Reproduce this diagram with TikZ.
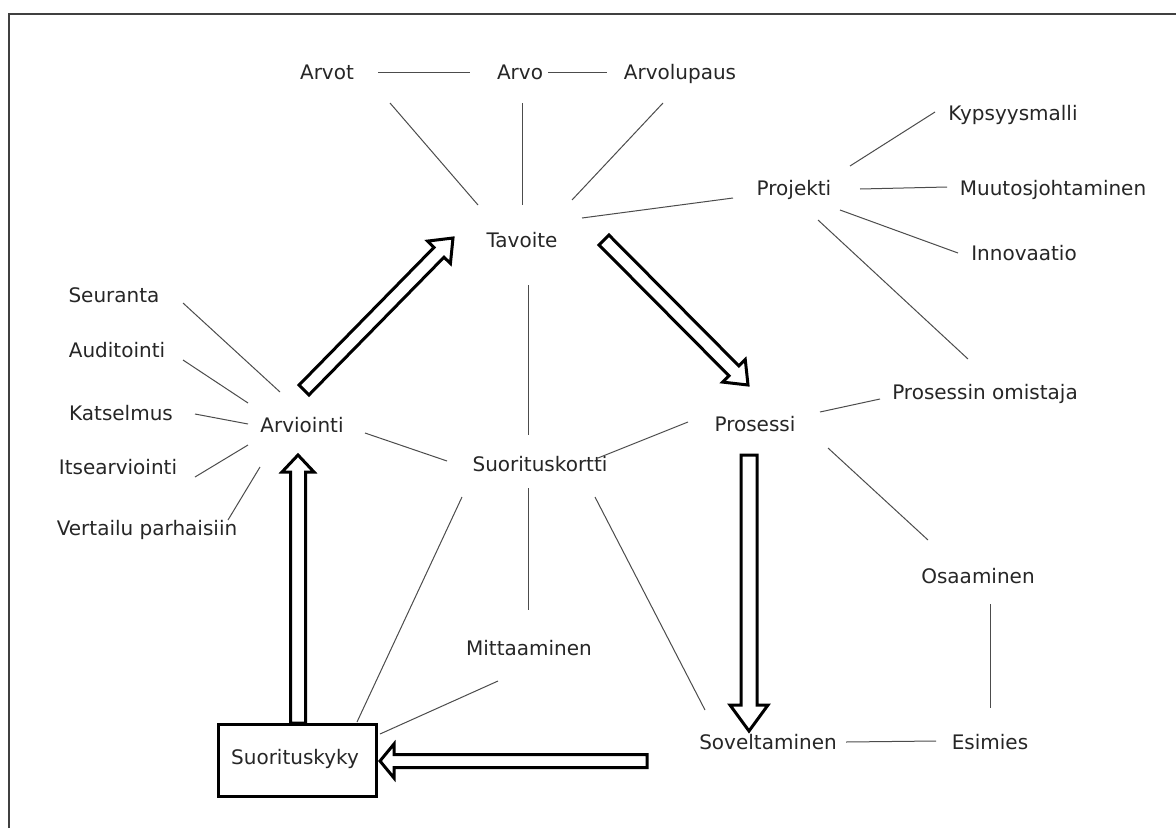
\documentclass[tikz,border=0pt]{standalone}
\usepackage{fontspec}
\setmainfont{DejaVu Sans}
\usetikzlibrary{calc}
\newcommand{\hollowarrow}[5]{%
  \coordinate (hq) at ($(#2)!#3!(#1)$);
  \draw[hollow] ($(#1)!#5!90:(#2)$) -- ($(hq)!#5!90:(#2)$) -- ($(hq)!#4!90:(#2)$) -- (#2)
    -- ($(hq)!#4!-90:(#2)$) -- ($(hq)!#5!-90:(#2)$) -- ($(#1)!#5!-90:(#2)$) -- cycle;}
\begin{document}
\begin{tikzpicture}[x=1pt,y=-1pt,
  lbl/.style={inner sep=0pt, text height=14.5pt, text depth=0pt, text=black!85,
    font=\fontsize{20}{24}\selectfont},
  link/.style={draw=black!70, line width=1pt},
  hollow/.style={draw=black, line width=3pt, fill=white, line join=miter},
  frame/.style={draw=black!75, line width=2pt}]
\useasboundingbox (0,0) rectangle (1176,828);
\fill[white] (0,0) rectangle (1176,828);
\draw[frame] (9,828) -- (9,14) -- (1176,14);

\node[lbl] (arvot) at (327,72) {Arvot};
\node[lbl] (arvo) at (520,72) {Arvo};
\node[lbl] (arvolupaus) at (680,72) {Arvolupaus};
\node[lbl] (tavoite) at (522,240) {Tavoite};
\node[lbl] (projekti) at (794,188) {Projekti};
\node[lbl] (kypsyys) at (1013,113) {Kypsyysmalli};
\node[lbl] (muutos) at (1053,188) {Muutosjohtaminen};
\node[lbl] (innovaatio) at (1024,253) {Innovaatio};
\node[lbl] (seuranta) at (114,295) {Seuranta};
\node[lbl] (auditointi) at (117,350) {Auditointi};
\node[lbl] (katselmus) at (121,413) {Katselmus};
\node[lbl] (arviointi) at (302,425) {Arviointi};
\node[lbl] (itsearv) at (118,467) {Itsearviointi};
\node[lbl] (vertailu) at (147,528) {Vertailu parhaisiin};
\node[lbl] (prosessi) at (755,424) {Prosessi};
\node[lbl] (omistaja) at (985,392) {Prosessin omistaja};
\node[lbl] (skortti) at (540,464) {Suorituskortti};
\node[lbl] (osaaminen) at (978,576) {Osaaminen};
\node[lbl] (mittaaminen) at (529,648) {Mittaaminen};
\node[draw=black, line width=3pt, minimum width=158pt, minimum height=72pt, inner sep=0pt]
  (skyky) at (297.5,760.5) {};
\node[lbl] (skykytxt) at (295,757) {Suorituskyky};
\node[lbl] (soveltaminen) at (768,742) {Soveltaminen};
\node[lbl] (esimies) at (990,742) {Esimies};

% thin connectors
\draw[link] ($(arvot)+(51,0)$) -- ($(arvo)+(-50,0)$);
\draw[link] ($(arvo)+(28,0)$) -- ($(arvolupaus)+(-73,0)$);
\draw[link] ($(arvot)+(63,31)$) -- ($(tavoite)+(-44,-35)$);
\draw[link] ($(arvo)+(2,31)$) -- ($(tavoite)+(0,-35)$);
\draw[link] ($(arvolupaus)+(-17,31)$) -- ($(tavoite)+(50,-40)$);
\draw[link] ($(tavoite)+(60,-22)$) -- ($(projekti)+(-61,10)$);
\draw[link] ($(projekti)+(56,-22)$) -- ($(kypsyys)+(-78,-1)$);
\draw[link] ($(projekti)+(66,1)$) -- ($(muutos)+(-106,-1)$);
\draw[link] ($(projekti)+(46,22)$) -- ($(innovaatio)+(-66,0)$);
\draw[link] ($(projekti)+(24,32)$) -- ($(omistaja)+(-17,-33)$);
\draw[link] ($(tavoite)+(6,45)$) -- ($(skortti)+(-12,-29)$);
\draw[link] ($(seuranta)+(69,8)$) -- ($(arviointi)+(-22,-33)$);
\draw[link] ($(auditointi)+(66,10)$) -- ($(arviointi)+(-54,-22)$);
\draw[link] ($(katselmus)+(74,1)$) -- ($(arviointi)+(-54,-1)$);
\draw[link] ($(itsearv)+(77,10)$) -- ($(arviointi)+(-54,20)$);
\draw[link] ($(vertailu)+(81,-8)$) -- ($(arviointi)+(-42,42)$);
\draw[link] ($(arviointi)+(63,8)$) -- ($(skortti)+(-93,-3)$);
\draw[link] ($(skortti)+(58,-6)$) -- ($(prosessi)+(-67,-2)$);
\draw[link] ($(prosessi)+(65,-12)$) -- ($(omistaja)+(-105,7)$);
\draw[link] ($(prosessi)+(73,24)$) -- ($(osaaminen)+(-50,-36)$);
\draw[link] ($(osaaminen)+(12,28)$) -- ($(esimies)+(0,-34)$);
\draw[link] ($(soveltaminen)+(78,0)$) -- ($(esimies)+(-54,-1)$);
\draw[link] ($(skortti)+(-12,24)$) -- ($(mittaaminen)+(-1,-38)$);
\draw[link] ($(skortti)+(55,33)$) -- ($(soveltaminen)+(-63,-32)$);
\draw[link] ($(skortti)+(-78,33)$) -- ($(skyky)+(59.5,-38.5)$);
\draw[link] ($(mittaaminen)+(-31,33)$) -- ($(skyky)+(82.5,-26.5)$);

% hollow arrows
\coordinate (a1s) at (304,390); \coordinate (a1e) at (453,238);
\coordinate (a2s) at (604,240); \coordinate (a2e) at (748,385);
\coordinate (a3s) at (749,455); \coordinate (a3e) at (749,731);
\coordinate (a4s) at (647,761); \coordinate (a4e) at (380,761);
\coordinate (a5s) at (298,723); \coordinate (a5e) at (298,455);
\hollowarrow{a1s}{a1e}{20pt}{16pt}{7pt}
\hollowarrow{a2s}{a2e}{20pt}{16pt}{7pt}
\hollowarrow{a3s}{a3e}{26pt}{19pt}{8pt}
\hollowarrow{a4s}{a4e}{14pt}{17pt}{6.5pt}
\hollowarrow{a5s}{a5e}{17pt}{16pt}{7.5pt}
\end{tikzpicture}
\end{document}
